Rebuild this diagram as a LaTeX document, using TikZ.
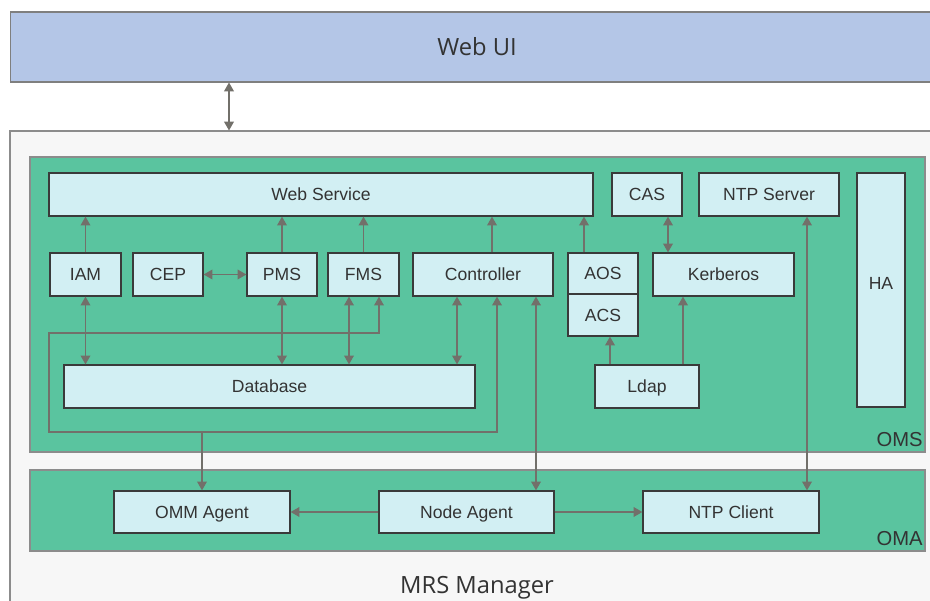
\documentclass[tikz,border=0pt]{standalone}
\usepackage{fontspec}
\setmainfont{Liberation Sans}
\newfontfamily\uifont{Open Sans}
\usepackage{tikz}
\usetikzlibrary{calc, arrows.meta, fit}
\definecolor{uiblue}{HTML}{B4C6E7}
\definecolor{uiline}{HTML}{7F7F7F}
\definecolor{bggray}{HTML}{F7F7F7}
\definecolor{omsgreen}{HTML}{5AC49F}
\definecolor{panelline}{HTML}{8C8C8C}
\definecolor{cellfill}{HTML}{D2EFF3}
\definecolor{boxline}{HTML}{3A3A3A}
\definecolor{linkgray}{HTML}{72706A}
\definecolor{txt}{HTML}{333333}
\tikzset{
	box/.style={draw=boxline, fill=cellfill, line width=0.7pt, inner sep=0pt, minimum height=0.86cm, text height=7.2pt, text depth=0pt, text=txt, font=\fontsize{10}{12}\selectfont},
	panel/.style={draw=panelline, fill=omsgreen, line width=0.6pt, inner sep=0pt},
	link/.style={draw=linkgray, line width=0.75pt, -{Triangle[length=5pt,width=5.5pt]}},
	dlink/.style={link, {Triangle[length=5pt,width=5.5pt]}-{Triangle[length=5pt,width=5.5pt]}}
}

\begin{document}
\begin{tikzpicture}[x=0.02cm, y=-0.02cm]
			\useasboundingbox (0,0) rectangle (930,601);
			\clip (0,0) rectangle (930,601);
			\fill[white] (0,0) rectangle (930,601);
			\node[draw=uiline, fill=uiblue, line width=0.6pt, inner sep=0pt, minimum width=18.68cm, minimum height=1.4cm, text=txt, font=\uifont\fontsize{13.5}{16}\selectfont] (WebUI) at (477,47) {Web UI};
			\node[fit={(10,131) (944,620)}, draw=panelline, fill=bggray, line width=0.6pt, inner sep=0pt] (MRS) {};
			\node[anchor=base, text=txt, font=\uifont\fontsize{13.5}{16}\selectfont] (mrslabel) at (477,593) {MRS Manager};
			\node[panel, fit={(30,157) (925,452)}] (OMS) {};
			\node[panel, fit={(30,470) (925,551)}] (OMA) {};
			\node[anchor=base east, text=txt, font=\fontsize{11.5}{14}\selectfont, inner sep=0pt] (omslabel) at (923,446) {OMS};
			\node[anchor=base east, text=txt, font=\fontsize{11.5}{14}\selectfont, inner sep=0pt] (omalabel) at (923,545) {OMA};
			\node[box, minimum width=10.88cm] (WS) at (321,194.5) {Web Service};
			\node[box, minimum width=1.4cm] (CAS) at (647,194.5) {CAS};
			\node[box, minimum width=2.8cm] (NTPS) at (769,194.5) {NTP Server};
			\node[box, minimum width=0.96cm, minimum height=4.68cm, text depth=8pt] (HA) at (881,290) {HA};
			\node[box, minimum width=1.42cm] (IAM) at (85.5,274.5) {IAM};
			\node[box, minimum width=1.4cm] (CEP) at (168,274.5) {CEP};
			\node[box, minimum width=1.4cm] (PMS) at (282,274.5) {PMS};
			\node[box, minimum width=1.42cm] (FMS) at (363.5,274.5) {FMS};
			\node[box, minimum width=2.8cm] (Ctrl) at (483,274.5) {Controller};
			\node[box, minimum width=1.4cm, minimum height=0.82cm] (AOS) at (603,273.5) {AOS};
			\node[box, minimum width=1.4cm, minimum height=0.84cm] (ACS) at (603,315) {ACS};
			\node[box, minimum width=2.82cm] (Krb) at (723.5,274.5) {Kerberos};
			\node[box, minimum width=8.22cm] (DB) at (269.5,386.5) {Database};
			\node[box, minimum width=2.08cm] (Ldap) at (647,386.5) {Ldap};
			\node[box, minimum width=3.52cm, minimum height=0.84cm] (OMM) at (202,512) {OMM Agent};
			\node[box, minimum width=3.5cm, minimum height=0.84cm] (NA) at (466.5,512) {Node Agent};
			\node[box, minimum width=3.52cm, minimum height=0.84cm] (NTPC) at (731,512) {NTP Client};
			\coordinate (l1) at (379,333);
			\coordinate (l2) at (49,333);
			\coordinate (l3) at (49,432);
			\coordinate (l4) at (497,432);
			\coordinate (l5) at (202,432);
			\draw[dlink] (WebUI.south -| 229,0) -- (MRS.north -| 229,0);
			\draw[link] (IAM.north) -- (IAM.north |- WS.south);
			\draw[link] (PMS.north) -- (PMS.north |- WS.south);
			\draw[link] (FMS.north) -- (FMS.north |- WS.south);
			\draw[link] (Ctrl.north -| 492,0) -- (WS.south -| 492,0);
			\draw[link] (AOS.north -| 584,0) -- (WS.south -| 584,0);
			\draw[dlink] (CEP.east) -- (PMS.west);
			\draw[dlink] (IAM.south) -- (IAM.south |- DB.north);
			\draw[dlink] (PMS.south) -- (PMS.south |- DB.north);
			\draw[dlink] (FMS.south -| 349,0) -- (DB.north -| 349,0);
			\draw[dlink] (Ctrl.south -| 457,0) -- (DB.north -| 457,0);
			\draw[dlink] (FMS.south -| l1) -- (l1) -- (l2) -- (l3) -- (l4) -- (Ctrl.south -| l4);
			\draw[link] (l5) -- (OMM.north);
			\draw[dlink] (Ctrl.south -| 536,0) -- (NA.north -| 536,0);
			\draw[dlink] (CAS.south -| 668,0) -- (Krb.north -| 668,0);
			\draw[link] (Ldap.north -| 610,0) -- (ACS.south -| 610,0);
			\draw[link] (Ldap.north -| 683,0) -- (Krb.south -| 683,0);
			\draw[dlink] (NTPS.south -| 807,0) -- (NTPC.north -| 807,0);
			\draw[link] (NA.west) -- (OMM.east);
			\draw[link] (NA.east) -- (NTPC.west);
		\end{tikzpicture}
\end{document}
